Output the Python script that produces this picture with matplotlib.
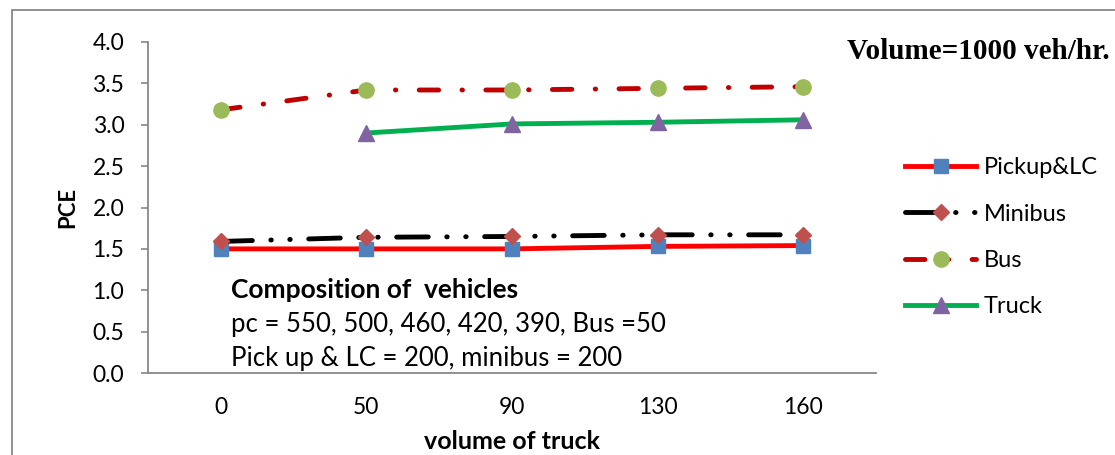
import matplotlib
matplotlib.use("Agg")
import matplotlib.pyplot as plt
from matplotlib.patches import Rectangle

plt.rcParams['font.family'] = ['Lato', 'DejaVu Sans']

# truck volume categories (veh/hr)
truck_volume = ['0', '50', '90', '130', '160']

# PCE values per vehicle class
pickup_lc = [1.50, 1.50, 1.50, 1.53, 1.54]
minibus = [1.59, 1.64, 1.65, 1.67, 1.67]
bus = [3.18, 3.42, 3.42, 3.44, 3.46]
truck = [None, 2.90, 3.01, 3.03, 3.06]

y_ticks = [0.0, 0.5, 1.0, 1.5, 2.0, 2.5, 3.0, 3.5, 4.0]

fig = plt.figure(figsize=(11.15, 4.55), dpi=100)
ax = fig.add_axes([0.1327, 0.1802, 0.653, 0.7275])

x = list(range(len(truck_volume)))

ax.plot(x, pickup_lc, color='#FF0000', lw=3.5, marker='s', markersize=10,
        markerfacecolor='#4F81BD', markeredgecolor='#4F81BD', label='Pickup&LC')
ax.plot(x, minibus, color='black', lw=3.5, dashes=(6.5, 3.8, 0.1, 3.8, 0.1, 3.8),
        dash_capstyle='round', marker='D', markersize=8,
        markerfacecolor='#C0504D', markeredgecolor='#C0504D', label='Minibus')
ax.plot(x, bus, color='#C00000', lw=3.5, dashes=(4.0, 4.8, 0.1, 4.8),
        dash_capstyle='round', marker='o', markersize=11,
        markerfacecolor='#9BBB59', markeredgecolor='#9BBB59', label='Bus')
truck_x = [i for i, v in zip(x, truck) if v is not None]
truck_y = [v for v in truck if v is not None]
ax.plot(truck_x, truck_y, color='#00B050', lw=3.5, marker='^', markersize=11,
        markerfacecolor='#8064A2', markeredgecolor='#8064A2', label='Truck')

ax.set_xlim(-0.5, len(truck_volume) - 0.5)
ax.set_ylim(0, 4.0)
ax.set_xticks(x)
ax.set_xticklabels(truck_volume)
ax.set_yticks(y_ticks)
ax.set_yticklabels([f'{t:.1f}' for t in y_ticks])
ax.tick_params(axis='both', labelsize=16.5, colors='black')
ax.tick_params(axis='y', length=5, width=1.2, color='#888888', pad=12)
ax.tick_params(axis='x', length=0, pad=17)

for side in ['top', 'right']:
    ax.spines[side].set_visible(False)
for side in ['left', 'bottom']:
    ax.spines[side].set_color('#888888')
    ax.spines[side].set_linewidth(1.3)

ax.set_ylabel('PCE', fontsize=16, fontweight='bold', labelpad=10)
ax.set_xlabel('volume of truck', fontsize=18, fontweight='bold', labelpad=9)

# composition note inside the plot area
ax.text(0.114, 0.252, 'Composition of  vehicles', transform=ax.transAxes,
        fontsize=19, fontweight='bold', va='center')
ax.text(0.114, 0.146, 'pc = 550, 500, 460, 420, 390, Bus =50', transform=ax.transAxes,
        fontsize=18.5, va='center')
ax.text(0.114, 0.045, 'Pick up & LC = 200, minibus = 200', transform=ax.transAxes,
        fontsize=18.5, va='center')

fig.text(0.760, 0.886, 'Volume=1000 veh/hr.', family='Liberation Serif',
         fontsize=21, fontweight='bold', va='center')

fig.legend(loc='upper left', bbox_to_anchor=(0.8036, 0.675), frameon=False,
           borderaxespad=0, fontsize=17, handlelength=3.0, labelspacing=1.07,
           handletextpad=0.3)

# chart area border
fig.add_artist(Rectangle((12 / 1115, -0.1), 1.2, 1 - 10 / 455 + 0.1,
                         transform=fig.transFigure, fill=False,
                         edgecolor='#888888', lw=1.3))

fig.savefig('out.png', dpi=100)
